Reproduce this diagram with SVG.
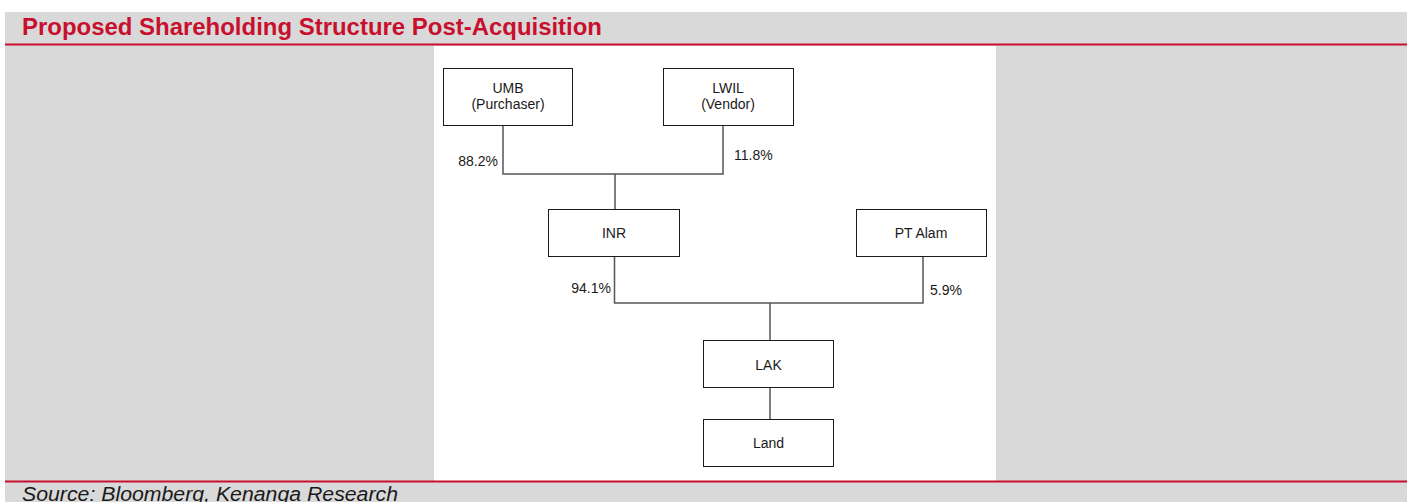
<svg xmlns="http://www.w3.org/2000/svg" width="1407" height="502" viewBox="0 0 1407 502">
<style>
.bg{fill:#d9d9d9}
.red{fill:#c8102e}
.box{fill:#ffffff;stroke:#1a1a1a;stroke-width:1}
.lbl{font-family:"Liberation Sans",Arial,sans-serif;font-size:14px;fill:#1a1a1a;text-anchor:middle}
.pct{font-family:"Liberation Sans",Arial,sans-serif;font-size:14px;fill:#1a1a1a}
.conn{stroke:#555555;stroke-width:1.5;fill:none}
</style>
<rect x="0" y="0" width="1407" height="502" fill="#ffffff"/>
<rect class="bg" x="5" y="12" width="1402" height="490"/>
<rect x="434" y="46" width="562" height="435" fill="#ffffff"/>
<rect class="red" x="5" y="43.5" width="1402" height="2"/>
<rect class="red" x="5" y="480.5" width="1402" height="2"/>
<text x="22" y="35" font-family="'Liberation Sans',Arial,sans-serif" font-size="23" font-weight="bold" fill="#c8102e" textLength="580" lengthAdjust="spacingAndGlyphs">Proposed Shareholding Structure Post-Acquisition</text>
<text x="22" y="501" font-family="'Liberation Sans',Arial,sans-serif" font-size="20" font-style="italic" fill="#1a1a1a" textLength="376" lengthAdjust="spacingAndGlyphs">Source: Bloomberg, Kenanga Research</text>
<g id="connectors">
<polyline class="conn" points="503,125 503,174 723,174 723,125"/>
<line class="conn" x1="615" y1="174" x2="615" y2="209"/>
<polyline class="conn" points="614.5,257 614.5,303 923,303 923,257"/>
<line class="conn" x1="770" y1="303" x2="770" y2="340"/>
<line class="conn" x1="770" y1="388" x2="770" y2="419"/>
</g>
<g id="umb"><rect class="box" x="443.5" y="68.5" width="129" height="57"/><text class="lbl" x="508" y="92.5">UMB</text><text class="lbl" x="508" y="108.5">(Purchaser)</text></g>
<g id="lwil"><rect class="box" x="663.5" y="68.5" width="130" height="57"/><text class="lbl" x="728" y="92.5">LWIL</text><text class="lbl" x="728" y="108.5">(Vendor)</text></g>
<g id="inr"><rect class="box" x="548.5" y="209.5" width="131" height="47"/><text class="lbl" x="614" y="237.5">INR</text></g>
<g id="ptalam"><rect class="box" x="856.5" y="209.5" width="130" height="47"/><text class="lbl" x="921" y="237.5">PT Alam</text></g>
<g id="lak"><rect class="box" x="703.5" y="340.5" width="130" height="47"/><text class="lbl" x="768.5" y="369.5">LAK</text></g>
<g id="land"><rect class="box" x="703.5" y="419.5" width="130" height="47"/><text class="lbl" x="768.5" y="447.5">Land</text></g>
<g id="pcts">
<text class="pct" x="498" y="166" text-anchor="end">88.2%</text>
<text class="pct" x="734" y="160">11.8%</text>
<text class="pct" x="611" y="293" text-anchor="end">94.1%</text>
<text class="pct" x="930" y="294.5">5.9%</text>
</g>
</svg>
